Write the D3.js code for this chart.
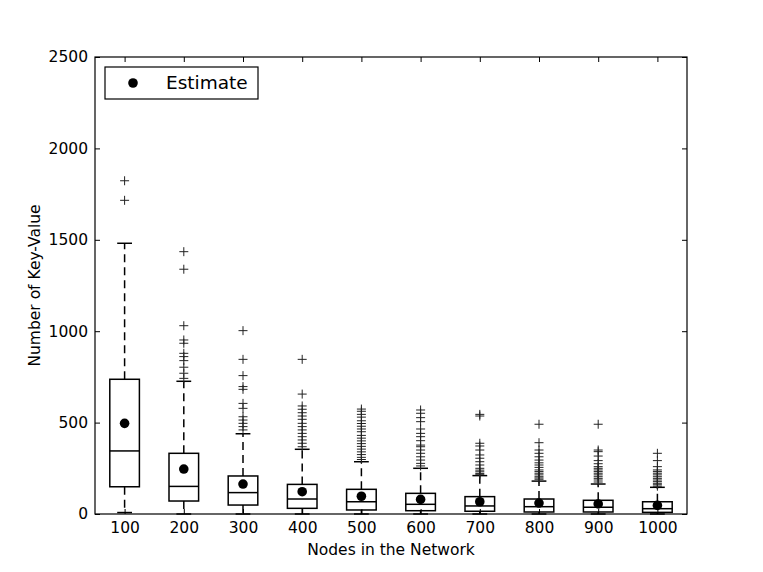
<!DOCTYPE html>
<html>
<head>
<meta charset="utf-8">
<script src="https://cdn.jsdelivr.net/npm/d3@7"></script>
<style>
  body { margin: 0; background: #fff; }
  text { font-family: "DejaVu Sans", sans-serif; }
</style>
</head>
<body>
<div class="chart"></div>
<script>
// chart data
var nodes = [100, 200, 300, 400, 500, 600, 700, 800, 900, 1000];
var q1 = [149, 71, 49, 31, 22, 18, 15, 11, 11, 9];
var medians = [345, 151, 117, 82, 67, 53, 44, 40, 37, 29];
var q3 = [737, 332, 208, 162, 135, 113, 95, 82, 75, 67];
var whiskLow = [8, 0, 0, 0, 0, 0, 0, 0, 0, 0];
var whiskHigh = [1481, 726, 439, 354, 286, 250, 210, 180, 164, 146];
var means = [496, 246, 164, 122, 97, 80, 67, 60, 55, 47];
var fliers = [
  [1823, 1716],
  [1435, 1339, 1030, 952, 934, 879, 861, 839, 803, 770, 742],
  [1003, 846, 757, 697, 682, 605, 578, 532, 514, 496, 478, 460],
  [846, 656, 591, 573, 554, 536, 518, 496, 478, 460, 441, 423, 405, 387, 368],
  [574, 562, 545, 530, 510, 495, 480, 465, 450, 430, 415, 400, 385, 370, 355, 340, 325, 310, 298],
  [569, 551, 527, 505, 465, 441, 423, 401, 377, 368, 350, 332, 313, 295, 277, 263],
  [545, 536, 387, 372, 350, 323, 305, 286, 268, 250, 240, 231, 222, 215],
  [491, 390, 350, 332, 313, 295, 280, 268, 255, 241, 232, 223, 214, 204, 197, 190],
  [491, 350, 341, 317, 292, 275, 259, 250, 241, 232, 223, 214, 204, 195, 186, 175],
  [332, 292, 259, 241, 232, 223, 214, 204, 195, 186, 177, 168, 160, 152]
];
var yTicks = [0, 500, 1000, 1500, 2000, 2500];

var svgWidth = 763;
var svgHeight = 572;
var margin = { top: 57, right: 76, bottom: 58, left: 95 };
var width = svgWidth - margin.left - margin.right;
var height = svgHeight - margin.top - margin.bottom;

var svg = d3.select(".chart")
  .append("svg")
  .attr("width", svgWidth)
  .attr("height", svgHeight);

var chartGroup = svg.append("g")
  .attr("transform", `translate(${margin.left}, ${margin.top})`);

var x = d3.scaleLinear().domain([0.5, 10.5]).range([0, width]);
var y = d3.scaleLinear().domain([0, 2500]).range([height, 0]);
var boxW = x(1.25) - x(1);

// axes: classic matplotlib style, ticks pointing inward on every side
var fs = "15.5px";
var leftAxis = d3.axisLeft(y).tickValues(yTicks).tickFormat(d3.format("d"))
  .tickSize(-5).tickPadding(7);
var rightAxis = d3.axisRight(y).tickValues(yTicks).tickSize(-5).tickFormat("");
var bottomAxis = d3.axisBottom(x).tickValues(d3.range(1, 11))
  .tickFormat((d, i) => nodes[i]).tickSize(-5).tickPadding(8);
var topAxis = d3.axisTop(x).tickValues(d3.range(1, 11)).tickSize(-5).tickFormat("");

[[leftAxis, "translate(0,0)"], [rightAxis, `translate(${width},0)`],
 [bottomAxis, `translate(0,${height})`], [topAxis, "translate(0,0)"]].forEach(function(a) {
  var g = chartGroup.append("g").attr("transform", a[1]).call(a[0]);
  g.select(".domain").remove();
  g.selectAll(".tick line").attr("stroke", "#000");
  g.selectAll(".tick text").attr("fill", "#000").style("font-size", fs)
    .style("font-family", "DejaVu Sans");
});

// boxes
var boxes = chartGroup.selectAll(".box").data(nodes).enter().append("g").attr("class", "box");

boxes.append("line")
  .attr("x1", (d, i) => x(i + 1)).attr("x2", (d, i) => x(i + 1))
  .attr("y1", (d, i) => y(q3[i])).attr("y2", (d, i) => y(whiskHigh[i]))
  .attr("stroke", "#000").attr("stroke-width", 1.5).attr("stroke-dasharray", "8,5");
boxes.append("line")
  .attr("x1", (d, i) => x(i + 1)).attr("x2", (d, i) => x(i + 1))
  .attr("y1", (d, i) => y(q1[i])).attr("y2", (d, i) => y(whiskLow[i]))
  .attr("stroke", "#000").attr("stroke-width", 1.5).attr("stroke-dasharray", "8,5");

[whiskHigh, whiskLow].forEach(function(arr) {
  boxes.append("line")
    .attr("x1", (d, i) => x(i + 1) - boxW / 2).attr("x2", (d, i) => x(i + 1) + boxW / 2)
    .attr("y1", (d, i) => y(arr[i])).attr("y2", (d, i) => y(arr[i]))
    .attr("stroke", "#000").attr("stroke-width", 1.5);
});

boxes.append("rect")
  .attr("x", (d, i) => x(i + 1) - boxW)
  .attr("width", boxW * 2)
  .attr("y", (d, i) => y(q3[i]))
  .attr("height", (d, i) => y(q1[i]) - y(q3[i]))
  .attr("fill", "none").attr("stroke", "#000").attr("stroke-width", 1.5);

boxes.append("line")
  .attr("x1", (d, i) => x(i + 1) - boxW).attr("x2", (d, i) => x(i + 1) + boxW)
  .attr("y1", (d, i) => y(medians[i])).attr("y2", (d, i) => y(medians[i]))
  .attr("stroke", "#000").attr("stroke-width", 1.5);

// outliers as "+"
boxes.each(function(d, i) {
  var g = d3.select(this);
  fliers[i].forEach(function(v) {
    g.append("path")
      .attr("d", `M${x(i + 1) - 4.5},${y(v)}h9M${x(i + 1)},${y(v) - 4.5}v9`)
      .attr("stroke", "#222").attr("stroke-width", 1).attr("fill", "none");
  });
});

// mean markers
boxes.append("circle")
  .attr("cx", (d, i) => x(i + 1)).attr("cy", (d, i) => y(means[i]))
  .attr("r", 4.8).attr("fill", "#000");

// frame
chartGroup.append("rect")
  .attr("width", width).attr("height", height)
  .attr("fill", "none").attr("stroke", "#000").attr("stroke-width", 1.2);

// legend
var legend = chartGroup.append("g").attr("transform", "translate(10, 10)");
legend.append("rect").attr("width", 153).attr("height", 32)
  .attr("fill", "#fff").attr("stroke", "#000").attr("stroke-width", 1.2);
legend.append("circle").attr("cx", 28).attr("cy", 16).attr("r", 4.8).attr("fill", "#000");
legend.append("text").attr("x", 61).attr("y", 16).attr("dy", "0.35em")
  .style("font-size", "18.5px").text("Estimate");

// axis labels
svg.append("text")
  .attr("x", margin.left + width / 2).attr("y", 555)
  .attr("text-anchor", "middle").style("font-size", fs)
  .text("Nodes in the Network");
svg.append("text")
  .attr("transform", `translate(40, ${margin.top + height / 2}) rotate(-90)`)
  .attr("text-anchor", "middle").style("font-size", fs)
  .text("Number of Key-Value");
</script>
</body>
</html>
